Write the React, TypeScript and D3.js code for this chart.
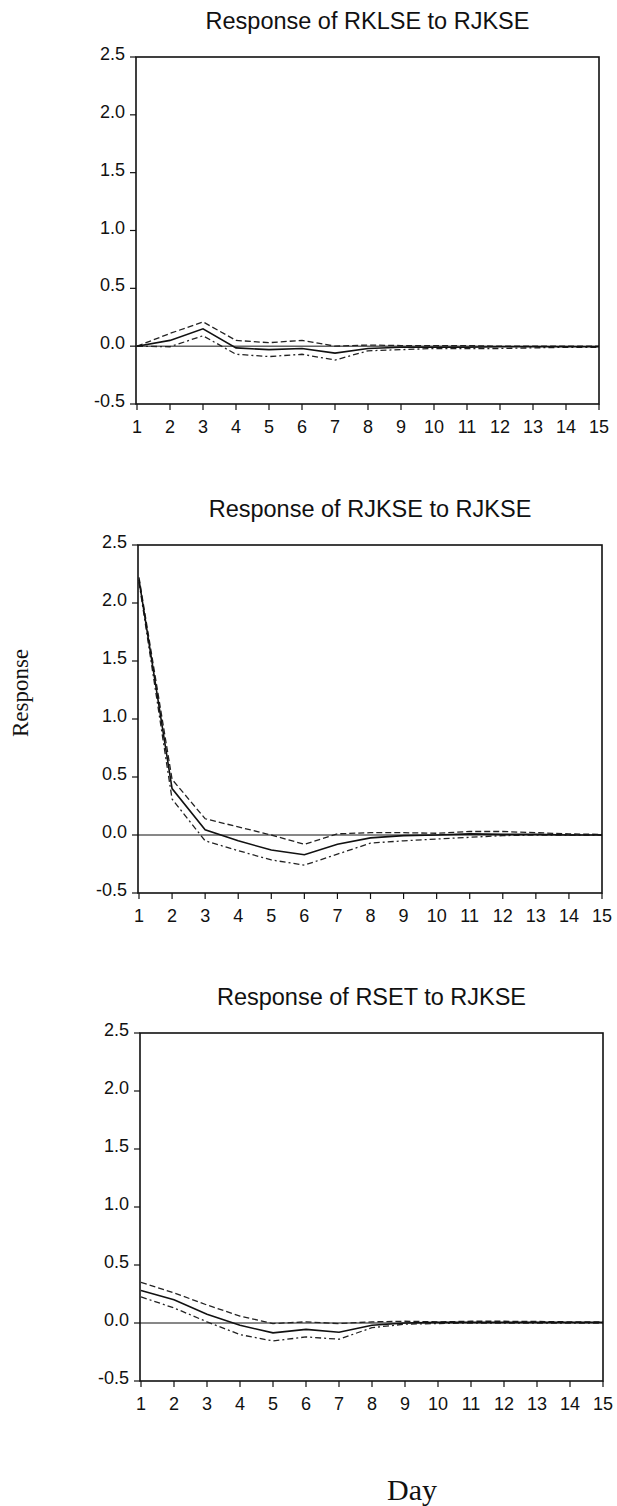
import React from "react";
import * as d3 from "d3";

const days = [1, 2, 3, 4, 5, 6, 7, 8, 9, 10, 11, 12, 13, 14, 15];
const yTicks = [-0.5, 0.0, 0.5, 1.0, 1.5, 2.0, 2.5];
const titles = [
  "Response of RKLSE to RJKSE",
  "Response of RJKSE to RJKSE",
  "Response of RSET to RJKSE",
];

const rklseMid = [0.0, 0.05, 0.15, -0.015, -0.03, -0.02, -0.06, -0.02, -0.01, -0.01, -0.01, -0.005, -0.005, -0.005, -0.005];
const rklseUp = [0.0, 0.11, 0.21, 0.05, 0.03, 0.05, 0.0, 0.01, 0.005, 0.005, 0.005, 0.0, 0.0, 0.0, 0.0];
const rklseLo = [0.0, -0.005, 0.09, -0.07, -0.09, -0.07, -0.12, -0.04, -0.03, -0.02, -0.02, -0.02, -0.015, -0.01, -0.01];

const rjkseMid = [2.2, 0.4, 0.045, -0.05, -0.13, -0.17, -0.08, -0.025, -0.005, 0.0, 0.01, 0.005, 0.005, 0.0, 0.0];
const rjkseUp = [2.22, 0.48, 0.14, 0.07, 0.0, -0.08, 0.01, 0.02, 0.02, 0.015, 0.03, 0.03, 0.02, 0.01, 0.005];
const rjkseLo = [2.18, 0.31, -0.05, -0.135, -0.215, -0.26, -0.165, -0.07, -0.05, -0.035, -0.02, -0.005, 0.0, 0.0, 0.0];

const rsetMid = [0.28, 0.2, 0.075, -0.02, -0.085, -0.055, -0.08, -0.02, 0.0, 0.005, 0.005, 0.005, 0.005, 0.005, 0.005];
const rsetUp = [0.35, 0.26, 0.155, 0.06, -0.005, 0.01, -0.005, 0.01, 0.015, 0.01, 0.015, 0.015, 0.013, 0.01, 0.01];
const rsetLo = [0.225, 0.13, 0.01, -0.1, -0.155, -0.12, -0.14, -0.04, -0.01, -0.005, 0.0, 0.0, 0.0, 0.0, 0.0];

const seriesSets = [
  { mid: rklseMid, up: rklseUp, lo: rklseLo },
  { mid: rjkseMid, up: rjkseUp, lo: rjkseLo },
  { mid: rsetMid, up: rsetUp, lo: rsetLo },
];

const layout = [
  { left: 136, right: 599, top: 57, bottom: 404 },
  { left: 138, right: 602, top: 545, bottom: 893 },
  { left: 140, right: 603, top: 1033, bottom: 1381 },
];

const axisFont = "'Liberation Sans', Arial, sans-serif";
const serifFont = "'Liberation Serif', 'Times New Roman', serif";

function Panel({ idx }: { idx: number }) {
  const L = layout[idx];
  const s = seriesSets[idx];
  const x = d3.scaleLinear().domain([1, 15]).range([L.left + 1, L.right]);
  const y = d3.scaleLinear().domain([-0.5, 2.5]).range([L.bottom, L.top]);
  const line = d3
    .line<number>()
    .x((_, i) => x(days[i]))
    .y((v) => y(v));
  const cx = (L.left + L.right) / 2;
  return (
    <g>
      <text
        x={cx}
        y={L.top - 28}
        textAnchor="middle"
        fontFamily={axisFont}
        fontSize={23.5}
        fill="#111"
      >
        {titles[idx]}
      </text>
      <line x1={L.left} x2={L.right} y1={y(0)} y2={y(0)} stroke="#111" strokeWidth={1} />
      <path d={line(s.up) || ""} fill="none" stroke="#222" strokeWidth={1.3} strokeDasharray="6,3" />
      <path d={line(s.lo) || ""} fill="none" stroke="#222" strokeWidth={1.3} strokeDasharray="6,3,2,3" />
      <path d={line(s.mid) || ""} fill="none" stroke="#111" strokeWidth={1.6} />
      <rect
        x={L.left}
        y={L.top}
        width={L.right - L.left}
        height={L.bottom - L.top}
        fill="none"
        stroke="#111"
        strokeWidth={1.6}
      />
      {yTicks.map((t) => (
        <g key={"y" + t}>
          <line x1={L.left - 6} x2={L.left} y1={y(t)} y2={y(t)} stroke="#111" strokeWidth={1.2} />
          <text
            x={L.left - 11}
            y={y(t) + 3}
            textAnchor="end"
            fontFamily={axisFont}
            fontSize={18}
            fill="#111"
          >
            {t.toFixed(1)}
          </text>
        </g>
      ))}
      {days.map((d) => (
        <g key={"x" + d}>
          <line x1={x(d)} x2={x(d)} y1={L.bottom} y2={L.bottom + 6} stroke="#111" strokeWidth={1.2} />
          <text
            x={x(d)}
            y={L.bottom + 29}
            textAnchor="middle"
            fontFamily={axisFont}
            fontSize={18}
            fill="#111"
          >
            {d}
          </text>
        </g>
      ))}
    </g>
  );
}

export default function App() {
  return (
    <svg
      width={617}
      height={1506}
      style={{ position: "absolute", left: 0, top: 0, background: "#fff" }}
    >
      <rect x={0} y={0} width={617} height={1506} fill="#fff" />
      {[0, 1, 2].map((i) => (
        <Panel key={i} idx={i} />
      ))}
      <text
        x={28}
        y={693}
        transform="rotate(-90 28 693)"
        textAnchor="middle"
        fontFamily={serifFont}
        fontSize={23}
        fill="#111"
      >
        Response
      </text>
      <text x={412} y={1500} textAnchor="middle" fontFamily={serifFont} fontSize={30} fill="#111">
        Day
      </text>
    </svg>
  );
}
